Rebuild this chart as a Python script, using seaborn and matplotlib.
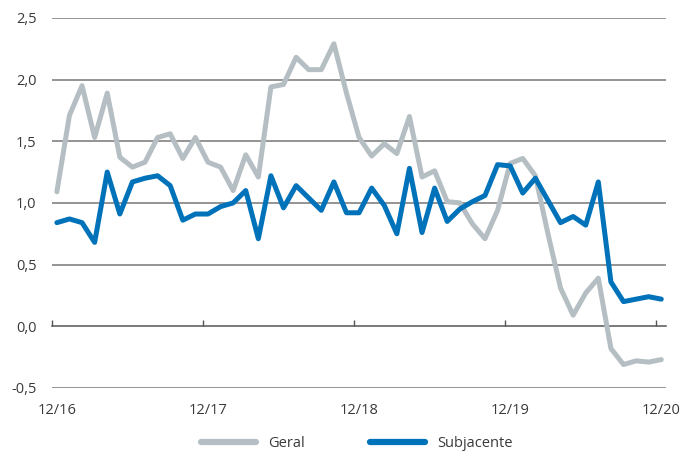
import numpy as np
import pandas as pd
import matplotlib
matplotlib.use("Agg")
import matplotlib.pyplot as plt
import seaborn as sns

# monthly values, 12/16 .. 12/20
geral = [1.09, 1.71, 1.95, 1.53, 1.89, 1.37, 1.29, 1.33, 1.53, 1.56, 1.36, 1.53,
         1.33, 1.29, 1.10, 1.39, 1.21, 1.94, 1.96, 2.18, 2.08, 2.08, 2.29, 1.89, 1.53,
         1.38, 1.48, 1.40, 1.70, 1.21, 1.26, 1.01, 1.00, 0.83, 0.71, 0.94, 1.32, 1.36,
         1.22, 0.75, 0.31, 0.09, 0.27, 0.39, -0.18, -0.31, -0.28, -0.29, -0.27]
subjacente = [0.84, 0.87, 0.84, 0.68, 1.25, 0.91, 1.17, 1.20, 1.22, 1.14, 0.86, 0.91,
              0.91, 0.97, 1.00, 1.10, 0.71, 1.22, 0.96, 1.14, 1.04, 0.94, 1.17, 0.92, 0.92,
              1.12, 0.98, 0.75, 1.28, 0.76, 1.12, 0.85, 0.95, 1.01, 1.06, 1.31, 1.30, 1.08,
              1.20, 1.02, 0.84, 0.89, 0.82, 1.17, 0.36, 0.20, 0.22, 0.24, 0.22]
tick_labels = ["12/16", "12/17", "12/18", "12/19", "12/20"]
y_ticks = [-0.5, 0.0, 0.5, 1.0, 1.5, 2.0, 2.5]

sns.set_style("white")
plt.rcParams['font.family'] = ['Open Sans', 'DejaVu Sans']

n = len(geral)
df = pd.DataFrame({
    "mes": list(range(n)) * 2,
    "valor": geral + subjacente,
    "serie": ["Geral"] * n + ["Subjacente"] * n,
})

fig = plt.figure(figsize=(6.82, 4.57), dpi=100)
ax = fig.add_axes([0.076, 0.151, 0.901, 0.810])

# gridlines first so the lines sit on top
for v in y_ticks:
    if v != 0:
        ax.axhline(v, color="#767676", lw=1.1, zorder=0)

sns.lineplot(data=df, x="mes", y="valor", hue="serie",
             palette={"Geral": "#b5bfc3", "Subjacente": "#0072b9"},
             linewidth=3.6, ax=ax, zorder=3)

ax.set_xlim(-0.4, n - 1 + 0.4)
ax.set_ylim(-0.5, 2.5)
ax.set_yticks(y_ticks)
ax.set_yticklabels([f"{v:.1f}".replace(".", ",") for v in y_ticks])
ax.set_xticks(range(0, n, 12))
ax.set_xticklabels(tick_labels)
ax.tick_params(axis="both", length=0, labelsize=10.5, colors="#3a3a3a")
ax.tick_params(axis="x", pad=11)
ax.tick_params(axis="y", pad=11)
ax.set_xlabel("")
ax.set_ylabel("")
for s in ax.spines.values():
    s.set_visible(False)

# zero line with small upward tick marks between years
sec = ax.secondary_xaxis(1 / 6)
sec.set_xticks(np.arange(0, n, 12) - 0.4)
sec.set_xticklabels([])
sec.tick_params(direction="in", length=4, width=1, color="#555555")
sec.spines["bottom"].set_color("#555555")
sec.spines["bottom"].set_linewidth(1.1)

leg = ax.legend(loc="upper center", bbox_to_anchor=(0.496, -0.103), ncol=2, frameon=False,
                handlelength=3.8, columnspacing=4.5, handletextpad=0.8, fontsize=10.5,
                borderpad=0.2)
for line in leg.get_lines():
    line.set_linewidth(4.5)
for t in leg.get_texts():
    t.set_color("#3a3a3a")

fig.savefig("out.png", dpi=100)
